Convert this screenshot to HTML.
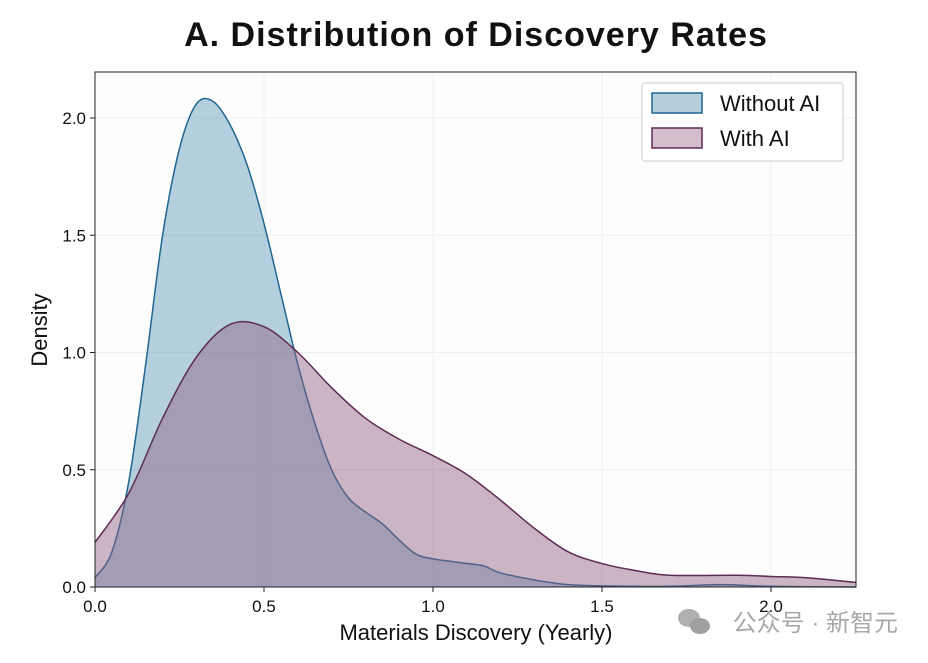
<!DOCTYPE html>
<html><head><meta charset="utf-8"><style>
body{margin:0;background:#fff;}
text{font-family:"Liberation Sans",Arial,sans-serif;}
</style></head><body>
<svg id="chart" width="928" height="658">
<text x="476" y="46" text-anchor="middle" font-size="34" font-weight="bold" letter-spacing="1" fill="#111">A. Distribution of Discovery Rates</text>
<rect x="95" y="72" width="761" height="515" fill="#fdfdfd"/>
<g id="grid"></g>
<g id="series"></g>
<rect x="95" y="72" width="761" height="515" fill="none" stroke="#222" stroke-width="1"/>
<g id="axes"></g>
<text x="476" y="640" text-anchor="middle" font-size="22" fill="#111">Materials Discovery (Yearly)</text>
<text transform="translate(47,330) rotate(-90)" text-anchor="middle" font-size="22" fill="#111">Density</text>
<g>
<rect x="642" y="83" width="201" height="78" fill="#fff" stroke="#ccc" rx="3"/>
<rect x="652" y="93" width="50" height="20" fill="#b5cfdd" stroke="#1f6690" stroke-width="1.5"/>
<text x="720" y="111" font-size="22" fill="#111">Without AI</text>
<rect x="652" y="128" width="50" height="20" fill="#d3bfcc" stroke="#5e2b53" stroke-width="1.5"/>
<text x="720" y="146" font-size="22" fill="#111">With AI</text>
</g>
<text x="898" y="631" text-anchor="end" font-size="24" fill="#a8a8a8" font-family="'Liberation Sans','Noto Sans CJK SC',sans-serif">公众号 · 新智元</text>
<g><ellipse cx="689" cy="618" rx="11" ry="9" fill="#b0b0b0"/><ellipse cx="700" cy="626" rx="10" ry="8" fill="#a0a0a0"/></g>
</svg>
<script>
const xTicks=[0,0.5,1.0,1.5,2.0];
const yTicks=[0,0.5,1.0,1.5,2.0];
const xsWithout=[0,0.05,0.1,0.15,0.2,0.25,0.3,0.35,0.4,0.45,0.5,0.55,0.6,0.65,0.7,0.75,0.8,0.85,0.9,0.95,1.0,1.05,1.1,1.15,1.2,1.3,1.4,1.5,1.7,1.85,2.0,2.25];
const ysWithout=[0.04,0.15,0.45,0.95,1.5,1.87,2.06,2.07,1.97,1.8,1.55,1.25,0.95,0.7,0.5,0.38,0.32,0.27,0.2,0.14,0.12,0.11,0.1,0.09,0.06,0.03,0.01,0.005,0.003,0.01,0.003,0];
const xsWith=[0,0.1,0.2,0.3,0.4,0.5,0.6,0.7,0.8,0.9,1.0,1.1,1.2,1.3,1.4,1.5,1.6,1.7,1.9,2.0,2.1,2.25];
const ysWith=[0.19,0.4,0.72,0.98,1.12,1.11,1.0,0.85,0.72,0.63,0.56,0.48,0.37,0.25,0.15,0.1,0.07,0.05,0.05,0.045,0.04,0.02];
const X=v=>95+v*338, Y=v=>587-v*234.5;
const ns="http://www.w3.org/2000/svg";
function mk(t,a,p){const e=document.createElementNS(ns,t);for(const k in a)e.setAttribute(k,a[k]);p.appendChild(e);return e;}
const grid=document.getElementById('grid'),axes=document.getElementById('axes'),ser=document.getElementById('series');
xTicks.forEach(t=>{
 const g=mk('line',{x1:X(t),x2:X(t),y1:72,y2:587,stroke:'#eee'},grid);
 
 
 const l=mk('line',{x1:X(t),x2:X(t),y1:587,y2:592,stroke:'#222'},axes);
 
 
 const tx=mk('text',{x:X(t),y:612,'text-anchor':'middle','font-size':17,fill:'#111'},axes);tx.textContent=t.toFixed(1);
 
 
});
yTicks.forEach(t=>{
 const g=mk('line',{x1:95,x2:856,y1:Y(t),y2:Y(t),stroke:'#eee'},grid);
 
 
 const l=mk('line',{x1:90,x2:95,y1:Y(t),y2:Y(t),stroke:'#222'},axes);
 
 
 const tx=mk('text',{x:86,y:Y(t)+6,'text-anchor':'end','font-size':17,fill:'#111'},axes);tx.textContent=t.toFixed(1);
 
 
});
function curve(xs,ys){
 const p=xs.map((x,i)=>[X(x),Y(ys[i])]);let d='M'+p[0][0]+','+p[0][1];
 for(let i=0;i<p.length-1;i++){const p0=p[Math.max(0,i-1)],p1=p[i],p2=p[i+1],p3=p[Math.min(p.length-1,i+2)];
  const c1=[p1[0]+(p2[0]-p0[0])/6,p1[1]+(p2[1]-p0[1])/6],c2=[p2[0]-(p3[0]-p1[0])/6,p2[1]-(p3[1]-p1[1])/6];
  d+=` C${c1[0]},${c1[1]} ${c2[0]},${c2[1]} ${p2[0]},${p2[1]}`;}
 return d;}
function area(xs,ys,fill,stroke,name){
 const c=curve(xs,ys);
 const a=mk('path',{d:c+` L${X(xs[xs.length-1])},587 L${X(xs[0])},587 Z`,fill:fill,'fill-opacity':0.45},ser);
 
 
 const l=mk('path',{d:c,fill:'none',stroke:stroke,'stroke-width':1.5},ser);
 
 
}
area(xsWithout,ysWithout,'#5b97b8','#1f6690','without-ai');
area(xsWith,ysWith,'#8f5d80','#5e2b53','with-ai');
</script>
</body></html>
